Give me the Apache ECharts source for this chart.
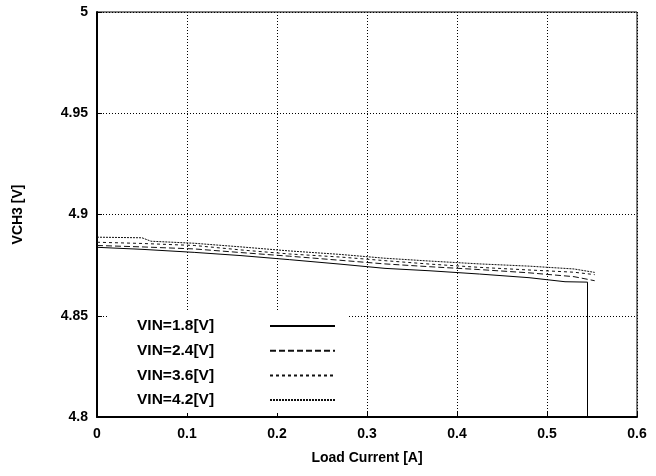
<!DOCTYPE html>
<html><head><meta charset="utf-8">
<script src="https://cdn.jsdelivr.net/npm/echarts@6/dist/echarts.min.js"></script>
<style>html,body{margin:0;padding:0;background:#fff}#c{width:656px;height:476px}</style>
</head><body><div id="c"></div>
<script>
const seriesNames = ['VIN=1.8[V]', 'VIN=2.4[V]', 'VIN=3.6[V]', 'VIN=4.2[V]'];
const x18 = [0, 0.05, 0.108, 0.16, 0.214, 0.27, 0.32, 0.37, 0.425, 0.48, 0.52, 0.545, 0.545];
const y18 = [4.8838, 4.8828, 4.8813, 4.8797, 4.8777, 4.8755, 4.8734, 4.8722, 4.8706, 4.8688, 4.8668, 4.8666, 4.8];
const x24 = [0, 0.05, 0.108, 0.16, 0.214, 0.27, 0.32, 0.37, 0.425, 0.48, 0.53, 0.553];
const y24 = [4.8847, 4.8840, 4.8830, 4.8812, 4.8794, 4.8774, 4.8756, 4.8742, 4.8728, 4.8712, 4.8693, 4.8673];
const x36 = [0, 0.05, 0.108, 0.16, 0.214, 0.27, 0.32, 0.37, 0.425, 0.48, 0.53, 0.553];
const y36 = [4.8863, 4.8857, 4.8847, 4.8825, 4.8805, 4.8790, 4.8772, 4.8755, 4.8739, 4.8726, 4.8715, 4.8703];
const x42 = [0, 0.05, 0.06, 0.108, 0.16, 0.214, 0.27, 0.32, 0.37, 0.425, 0.48, 0.53, 0.553];
const y42 = [4.8888, 4.8885, 4.8868, 4.8858, 4.8840, 4.8820, 4.8803, 4.8784, 4.8770, 4.8756, 4.8745, 4.8731, 4.8714];
const xTicks = ['0', '0.1', '0.2', '0.3', '0.4', '0.5', '0.6'];
const yTicks = ['4.8', '4.85', '4.9', '4.95', '5'];

const FONT = '"Liberation Sans", Arial, sans-serif';
const pair = (xs, ys) => xs.map((x, i) => [x, ys[i]]);
const styles = [
  { color: '#000', width: 1, type: 'solid' },
  { color: '#111', width: 1, type: [6, 3] },
  { color: '#111', width: 1, type: [3, 3] },
  { color: '#111', width: 1, type: [2, 1] }
];
const datas = [pair(x18, y18), pair(x24, y24), pair(x36, y36), pair(x42, y42)];

const chart = echarts.init(document.getElementById('c'), null, { renderer: 'canvas' });
chart.setOption({
  animation: false,
  backgroundColor: '#fff',
  textStyle: { fontFamily: FONT },
  grid: { left: 97, right: 19, top: 12, bottom: 59, show: true, borderColor: '#000', borderWidth: 1, backgroundColor: 'transparent' },
  xAxis: {
    type: 'value', min: 0, max: 0.6, interval: 0.1,
    name: 'Load Current [A]', nameLocation: 'middle', nameGap: 34,
    nameTextStyle: { fontFamily: FONT, fontWeight: 'bold', fontSize: 14, color: '#000' },
    axisLine: { show: true, lineStyle: { color: '#000', width: 2 } },
    axisTick: { show: true, inside: true, length: 5, lineStyle: { color: '#000' } },
    axisLabel: { margin: 10, fontFamily: FONT, fontWeight: 'bold', fontSize: 14, color: '#000',
      formatter: v => xTicks[Math.round(v * 10)] },
    splitLine: { show: true, lineStyle: { color: '#000', type: [1, 2], width: 1 } }
  },
  yAxis: {
    type: 'value', min: 4.8, max: 5, interval: 0.05,
    name: 'VCH3 [V]', nameLocation: 'middle', nameGap: 72, nameRotate: 90,
    nameTextStyle: { fontFamily: FONT, fontWeight: 'bold', fontSize: 14, color: '#000' },
    axisLine: { show: true, lineStyle: { color: '#000', width: 2 } },
    axisTick: { show: true, inside: true, length: 5, lineStyle: { color: '#000' } },
    axisLabel: { margin: 9, fontFamily: FONT, fontWeight: 'bold', fontSize: 14, color: '#000',
      formatter: v => yTicks[Math.round((v - 4.8) / 0.05)] },
    splitLine: { show: true, lineStyle: { color: '#000', type: [1, 2], width: 1 } }
  },
  legend: {
    show: true, orient: 'vertical', left: 107, top: 310,
    align: 'right', backgroundColor: '#fff',
    padding: [8, 13, 5, 30], itemGap: 8.7, itemWidth: 65, itemHeight: 14,
    itemStyle: { opacity: 0, borderWidth: 0 },
    formatter: n => '{a|' + n + '}',
    textStyle: { fontFamily: FONT, fontWeight: 700, fontSize: 15.5, color: '#000',
      rich: { a: { width: 128, height: 14, lineHeight: 14, align: 'left', fontFamily: FONT, fontWeight: 700, fontSize: 15.5, color: '#000' } } },
    data: seriesNames
  },
  series: seriesNames.map((n, i) => ({
    name: n, type: 'line', data: datas[i], symbol: 'none', showSymbol: false,
    lineStyle: styles[i], itemStyle: { color: styles[i].color }, z: 3
  }))
});
</script></body></html>
